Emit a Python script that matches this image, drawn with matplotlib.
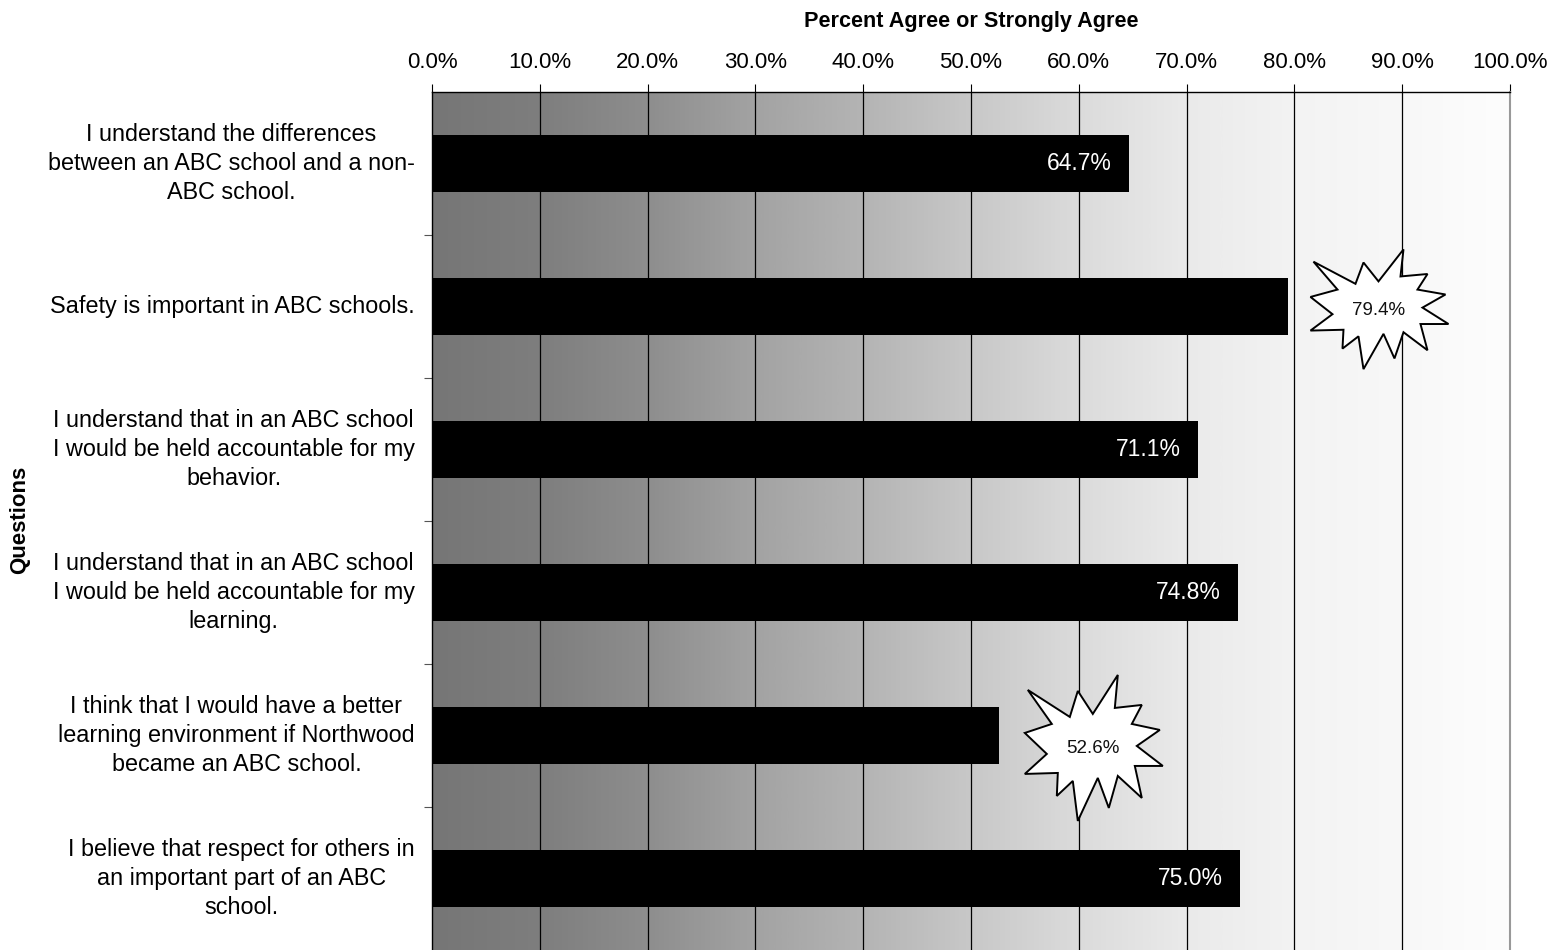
import numpy as np
import matplotlib
matplotlib.use("Agg")
import matplotlib.pyplot as plt
from matplotlib.patches import Polygon
from matplotlib.transforms import ScaledTranslation
from matplotlib.colors import LinearSegmentedColormap

plt.rcParams['font.family'] = ['Liberation Sans', 'DejaVu Sans']

questions = [
    "I understand the differences\nbetween an ABC school and a non-\nABC school.",
    "Safety is important in ABC schools.",
    "I understand that in an ABC school\nI would be held accountable for my\nbehavior.",
    "I understand that in an ABC school\nI would be held accountable for my\nlearning.",
    "I think that I would have a better\nlearning environment if Northwood\nbecame an ABC school.",
    "I believe that respect for others in\nan important part of an ABC\nschool.",
]
values = [64.7, 79.4, 71.1, 74.8, 52.6, 75.0]
highlight = [False, True, False, False, True, False]
xticks = np.arange(0, 101, 10)

fig = plt.figure(figsize=(15.62, 9.5), dpi=100)
ax = fig.add_axes([432/1562, 0.0, (1510-432)/1562, 1 - 92/950])

n = len(values)
ypos = np.arange(n)
ax.set_xlim(0, 100)
ax.set_ylim(n - 0.5, -0.5)

# gradient background (style)
stops = np.linspace(0, 1, 11)
levels = np.array([0x76, 0x7e, 0x8e, 0xa3, 0xb4, 0xc8, 0xdb, 0xea, 0xf3, 0xf8, 0xfd]) / 255
cmap = LinearSegmentedColormap.from_list(
    'bg', [(s, (l, l, l)) for s, l in zip(stops, levels)])
grad = np.linspace(0, 1, 512).reshape(1, -1)
ax.imshow(grad, cmap=cmap, vmin=0, vmax=1, aspect='auto',
          extent=[0, 100, n - 0.5, -0.5], zorder=0, interpolation='bilinear')

for x in xticks[1:-1]:
    ax.axvline(x, color='black', lw=0.9, zorder=1)

ax.barh(ypos, values, height=0.4, color='black', zorder=3)

# star shape (pixel offsets relative to center, image y down)
star_px = [(-65, -59), (-23, -32), (-15, -58), (0, -35), (25, -74), (22, -41),
           (49, -44), (39, -25), (67, -19), (44, -3), (70, 17), (42, 17),
           (49, 49), (25, 27), (16, 59), (5, 29), (-15, 72), (-20, 32),
           (-36, 47), (-35, 24), (-68, 25), (-46, 5), (-68, -16), (-41, -25)]
star_arr = np.array(star_px, dtype=float)
star_offsets = {1: (8.4, 0.025, 0.82), 4: (8.7, 0.094, 1.0)}

for i, v in enumerate(values):
    if highlight[i]:
        dx, dy, sy = star_offsets[i]
        cx, cy = v + dx, i + dy
        pts = np.column_stack([star_arr[:, 0], -star_arr[:, 1] * sy]) / 100.0
        tr = fig.dpi_scale_trans + ScaledTranslation(cx, cy, ax.transData)
        poly = Polygon(pts, closed=True, facecolor='white', edgecolor='black',
                       lw=1.4, joinstyle='miter', transform=tr, zorder=5)
        ax.add_patch(poly)
        ax.text(cx, cy, f"{v:.1f}%", ha='center', va='center', fontsize=13.5,
                color='#111111', zorder=6)
    else:
        ax.text(v - 1.6, i, f"{v:.1f}%", ha='right', va='center', fontsize=16.5,
                color='white', zorder=4)

ax.xaxis.tick_top()
ax.xaxis.set_label_position('top')
ax.set_xticks(xticks)
ax.set_xticklabels([f"{x:.1f}%" for x in xticks], fontsize=16)
ax.tick_params(axis='x', direction='out', length=6, pad=8, width=0.8)
ax.set_xlabel("Percent Agree or Strongly Agree", fontsize=15.6, fontweight='bold', labelpad=18)

ax.set_yticks(np.arange(n - 1) + 0.5)
ax.set_yticklabels([])
ax.tick_params(axis='y', direction='out', length=6, width=0.8, color='#555555')
for i, q in enumerate(questions):
    ax.text(-1.6, i, q, ha='right', va='center', multialignment='center',
            fontsize=16.8, linespacing=1.31)

fig.text(20/1562, 1 - 520/950, "Questions", rotation=90, ha='center', va='center',
         fontsize=16, fontweight='bold')

for s in ['top', 'left']:
    ax.spines[s].set_color('black')
    ax.spines[s].set_linewidth(1.0)
ax.spines['right'].set_color('#999999')
ax.spines['right'].set_linewidth(1.5)
ax.spines['bottom'].set_visible(False)
for sp in ax.spines.values():
    sp.set_zorder(7)

fig.savefig("out.png", dpi=100)
